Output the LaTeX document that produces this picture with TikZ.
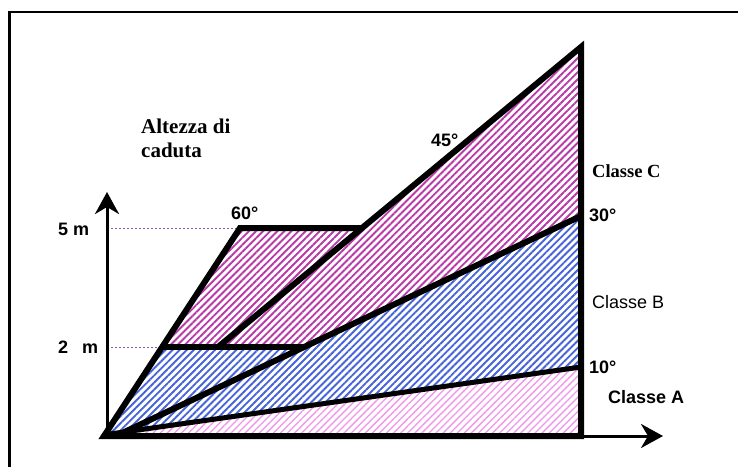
\documentclass[tikz,border=0pt]{standalone}
\usepackage{fontspec}
\setmainfont{Liberation Serif}
\setsansfont{Liberation Sans}
\usetikzlibrary{patterns.meta,arrows.meta}
\definecolor{hatchC}{HTML}{B83AA8}
\definecolor{hatchB}{HTML}{4664D8}
\definecolor{hatchA}{HTML}{F295EA}
\definecolor{dotcol}{HTML}{8A5AA8}
\begin{document}
\begin{tikzpicture}[x=1pt,y=-1pt,
  hatchstyleC/.style={pattern={Lines[angle=45,distance=5pt,line width=1.9pt]}, pattern color=hatchC},
  hatchstyleB/.style={pattern={Lines[angle=45,distance=5pt,line width=1.9pt]}, pattern color=hatchB},
  hatchstyleA/.style={pattern={Lines[angle=45,distance=5pt,line width=1.3pt]}, pattern color=hatchA},
  heavy/.style={line width=6pt, line join=miter, black},
  axisline/.style={line width=3pt, -{Stealth[length=22pt,width=24pt,inset=7pt]}},
  dotline/.style={dotcol, line width=1pt, dash pattern=on 2pt off 2pt},
  lblsf/.style={font=\sffamily\bfseries\fontsize{18}{20}\selectfont, anchor=base west, inner sep=0pt},
  lblsfr/.style={font=\sffamily\fontsize{18}{20}\selectfont, anchor=base west, inner sep=0pt},
  lblrm/.style={font=\rmfamily\bfseries\fontsize{18.5}{22}\selectfont, anchor=base west, inner sep=0pt},
  lblrmbig/.style={font=\rmfamily\bfseries\fontsize{21}{24}\selectfont, anchor=base west, inner sep=0pt}
]
\useasboundingbox (0,0) rectangle (738,466);
\clip (0,0) rectangle (738,466);
\fill[white] (0,0) rectangle (738,466);

% key points
\coordinate (O) at (104,436);
\coordinate (Ob) at (116,436);
\coordinate (Oa) at (110,434);
\coordinate (R) at (581,436);
\coordinate (T) at (581,47);
\coordinate (S) at (581,216);
\coordinate (Q) at (581,367);
\coordinate (F) at (240,228);
\coordinate (G) at (362,228);
\coordinate (H) at (218,347);
\coordinate (L) at (162,347);
\coordinate (P) at (304,347);
\coordinate (ybase) at (107,436);
\coordinate (ytip) at (107,192);
\coordinate (xtip) at (663,436);
\coordinate (y5) at (107,228);
\coordinate (y2) at (107,347);

% hatched regions
\fill[hatchstyleA] (O) -- (R) -- (Q) -- (Oa) -- cycle;
\fill[hatchstyleB] (O) -- (L) -- (P) -- (S) -- (Q) -- (Oa) -- cycle;
\fill[hatchstyleC] (L) -- (F) -- (G) -- (T) -- (S) -- (P) -- cycle;

% frame
\draw[line width=2.7pt] (9.7,480) -- (9.7,12) -- (760,12);

% dotted level lines
\draw[dotline] (y5) -- (F);
\draw[dotline] (y2) -- (L);

% axes
\draw[axisline] (ybase) -- (ytip);
\draw[axisline] (R) -- (xtip);

% heavy outlines
\draw[heavy] (O) -- (F) -- (G) -- (T) -- (R) -- cycle;
\draw[heavy] (H) -- (G);
\draw[heavy] (L) -- (P);
\draw[heavy] (Ob) -- (S);
\draw[heavy, line width=5pt] (Oa) -- (Q);
\fill (O) ++(-2,2) -- ++(30,-3) -- ++(0,-5) -- cycle;

% labels
\node[lblrmbig] (alt1) at (141,133) {Altezza di};
\node[lblrmbig] (alt2) at (141,157) {caduta};
\node[lblsf] (t60) at (231,219) {60°};
\node[lblsf] (t45) at (431,146) {45°};
\node[lblsf] (t30) at (589,221) {30°};
\node[lblsf] (t10) at (589,373) {10°};
\node[lblsf] (t5m) at (58,235) {5 m};
\node[lblsf] (t2m) at (58,353) {2\hspace{14pt}m};
\node[lblsf] (cA) at (608,403) {Classe A};
\node[lblsfr] (cB) at (592,308) {Classe B};
\node[lblrm] (cC) at (592,177) {Classe C};
\end{tikzpicture}
\end{document}
